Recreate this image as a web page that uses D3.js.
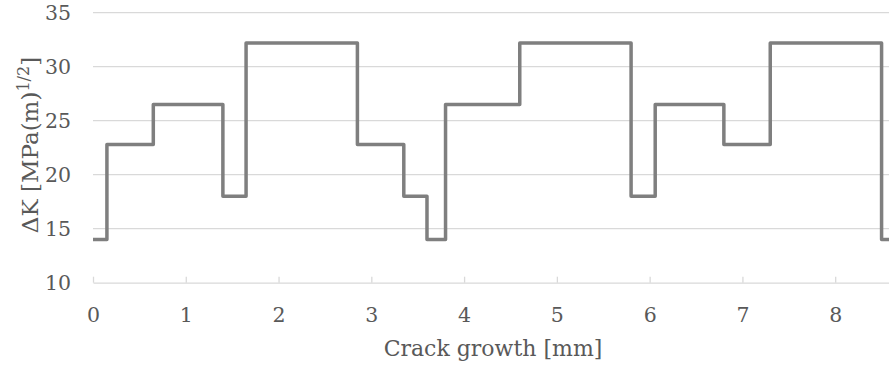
<!DOCTYPE html>
<html>
<head>
<script src="https://d3js.org/d3.v7.min.js"></script>
<style>
    body { margin: 0; background: #fff; }
    text { font-family: "DejaVu Serif", serif; fill: #595959; }
</style>
</head>
<body>
<svg id="chart" width="889" height="367"></svg>
<script>
    // step breakpoints: crack growth [mm] where each load level starts
    var crackGrowth = [0, 0.15, 0.65, 1.40, 1.65, 2.85, 3.35, 3.60, 3.80, 4.60, 5.80, 6.06, 6.80, 7.30, 8.50, 8.58];
    var deltaK      = [14, 22.8, 26.5, 18, 32.2, 22.8, 18, 14, 26.5, 32.2, 18, 26.5, 22.8, 32.2, 14, 14];
    var xTicks = [0, 1, 2, 3, 4, 5, 6, 7, 8];
    var yTicks = [10, 15, 20, 25, 30, 35];

    var data = crackGrowth.map(function (x, i) { return { x: x, y: deltaK[i] }; });

    var margin = { top: 12.7, right: 0, bottom: 84.3, left: 93 },
        width = 889 - margin.left - margin.right,
        height = 367 - margin.top - margin.bottom;

    var svg = d3.select("#chart")
        .append("g")
        .attr("transform", "translate(" + margin.left + "," + margin.top + ")");

    var x = d3.scaleLinear().domain([0, 8.58]).range([0, width]);
    var y = d3.scaleLinear().domain([10, 35]).range([height, 0]);

    // gridlines
    svg.append("g")
        .selectAll("line")
        .data(yTicks.slice(1))
        .enter()
        .append("line")
        .attr("x1", 0)
        .attr("x2", width)
        .attr("y1", function (d) { return y(d); })
        .attr("y2", function (d) { return y(d); })
        .attr("stroke", "#d9d9d9")
        .attr("stroke-width", 1.3);

    // x axis (ticks point up into the plot)
    var xAxis = svg.append("g")
        .attr("transform", "translate(0," + height + ")")
        .call(d3.axisTop(x).tickValues(xTicks).tickSize(6).tickSizeOuter(0));
    xAxis.select(".domain").attr("stroke", "#d9d9d9").attr("stroke-width", 1.3);
    xAxis.selectAll(".tick line").attr("stroke", "#d9d9d9").attr("stroke-width", 1.3);
    xAxis.selectAll(".tick text")
        .attr("y", 39.5)
        .style("font-size", "20.5px")
        .style("font-family", "DejaVu Serif")
        .attr("fill", "#595959");

    // y axis labels only
    var yAxis = svg.append("g")
        .call(d3.axisLeft(y).tickValues(yTicks).tickSize(0).tickPadding(22));
    yAxis.select(".domain").remove();
    yAxis.selectAll(".tick text")
        .style("font-size", "20.5px")
        .style("font-family", "DejaVu Serif")
        .attr("fill", "#595959");

    // the step line
    var line = d3.line()
        .x(function (d) { return x(d.x); })
        .y(function (d) { return y(d.y); })
        .curve(d3.curveStepAfter);

    svg.append("path")
        .datum(data)
        .attr("fill", "none")
        .attr("stroke", "#7f7f7f")
        .attr("stroke-width", 3.5)
        .attr("stroke-linejoin", "round")
        .attr("d", line);

    // axis titles
    svg.append("text")
        .attr("text-anchor", "middle")
        .attr("x", (493 - margin.left))
        .attr("y", 356 - margin.top)
        .style("font-size", "22px")
        .text("Crack growth [mm]");

    var yTitle = svg.append("text")
        .attr("text-anchor", "middle")
        .attr("transform", "translate(" + (38 - margin.left) + "," + (145 - margin.top) + ") rotate(-90)")
        .style("font-size", "23px");
    yTitle.append("tspan").text("ΔK [MPa(m)");
    yTitle.append("tspan").attr("dy", -9).style("font-size", "16px").text("1/2");
    yTitle.append("tspan").attr("dy", 9).text("]");
</script>
</body>
</html>
